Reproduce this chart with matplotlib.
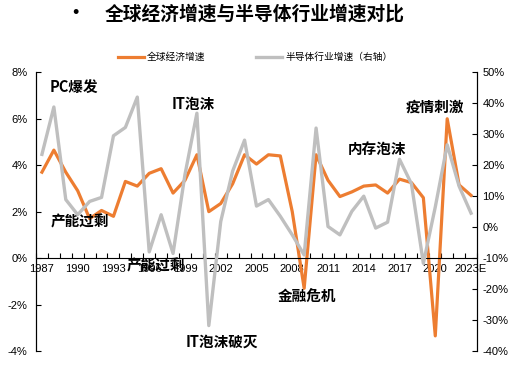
import matplotlib
matplotlib.use("Agg")
import matplotlib.pyplot as plt
import numpy as np

plt.rcParams['font.family'] = ['Liberation Sans', 'Noto Sans CJK SC', 'DejaVu Sans']

years = [str(y) for y in range(1987, 2023)] + ["2023E"]

# global GDP growth, % (left axis)
gdp = [3.7, 4.65, 3.7, 2.9, 1.7, 2.05, 1.8, 3.3, 3.1, 3.65,
       3.85, 2.8, 3.35, 4.45, 2.0, 2.35, 3.2, 4.45, 4.05, 4.45,
       4.4, 2.0, -1.3, 4.45, 3.35, 2.65, 2.85, 3.1, 3.15, 2.8,
       3.4, 3.25, 2.6, -3.35, 6.0, 3.15, 2.7]

# semiconductor industry growth, % (right axis)
semi = [23.5, 38.8, 8.9, 4.0, 8.3, 9.6, 29.5, 32.2, 42.0, -8.0,
        4.0, -8.5, 17.0, 36.8, -31.8, 1.8, 18.1, 28.1, 6.8, 8.9,
        3.5, -2.5, -9.0, 32.0, 0.2, -2.5, 5.1, 10.0, -0.3, 1.6,
        21.9, 14.0, -11.7, 6.5, 26.6, 13.2, 4.5]

notes = [("PC爆发", 2.7, 7.36), ("IT泡沫", 12.67, 6.63),
         ("产能过剩", 3.15, 1.56), ("产能过剩", 9.6, -0.31),
         ("IT泡沫破灭", 15.06, -3.59), ("金融危机", 22.2, -1.65),
         ("内存泡沫", 28.1, 4.69), ("疫情刺激", 32.97, 6.52)]

orange = "#ED7D31"
grey = "#BFBFBF"

fig = plt.figure(figsize=(5.2, 3.72), dpi=100)
ax = fig.add_axes([0.0692, 0.0565, 0.8481, 0.7491])
ax2 = ax.twinx()

x = np.arange(len(years))
l1, = ax.plot(x, gdp, color=orange, lw=2.3, label="全球经济增速", zorder=2)
l2, = ax2.plot(x, semi, color=grey, lw=2.4, label="半导体行业增速（右轴）", zorder=2)

ax.set_xlim(-0.5, len(years) - 0.5)
ax.set_ylim(-4, 8)
ax2.set_ylim(-40, 50)
ax.set_yticks(np.arange(-4, 9, 2))
ax.set_yticklabels(["%d%%" % v for v in range(-4, 9, 2)])
ax2.set_yticks(np.arange(-40, 51, 10))
ax2.set_yticklabels(["%d%%" % v for v in range(-40, 51, 10)])

for a in (ax, ax2):
    a.spines['top'].set_visible(False)
    a.spines['bottom'].set_visible(False)
    a.spines['left'].set_color('black')
    a.spines['right'].set_color('black')
ax.spines['bottom'].set_visible(True)
ax.spines['bottom'].set_position(('data', 0))

# ticks at category boundaries, labels every 3 years
ax.set_xticks(np.arange(-0.5, len(years), 1.0))
ax.set_xticklabels([])
ax.tick_params(axis='x', which='major', direction='in', length=3.5, width=0.8)
ax.set_xticks(x[::3], minor=True)
ax.set_xticklabels(years[::3], minor=True)
ax.tick_params(axis='x', which='minor', length=0, labelsize=8, pad=4)
ax.tick_params(axis='y', direction='in', length=3.5, labelsize=8, pad=6)
ax2.tick_params(axis='y', direction='in', length=3.5, labelsize=8, pad=4)

for txt, tx, ty in notes:
    ax.text(tx, ty, txt, ha='center', va='center', fontsize=10.5,
            fontweight='bold', family=['Noto Sans CJK SC'], zorder=5)

fig.text(0.146, 0.963, "•", fontsize=13, ha='center', va='center')
fig.text(0.49, 0.963, "全球经济增速与半导体行业增速对比", fontsize=13.5,
         fontweight='bold', ha='center', va='center', family=['Noto Sans CJK SC'])

fig.legend(handles=[l1, l2], loc='center left', bbox_to_anchor=(0.21, 0.847),
           ncol=2, frameon=False, handlelength=2.7,
           handletextpad=0.3, columnspacing=5.2,
           prop={'family': ['Noto Sans CJK SC'], 'size': 7})

fig.savefig("out.png", dpi=100)
